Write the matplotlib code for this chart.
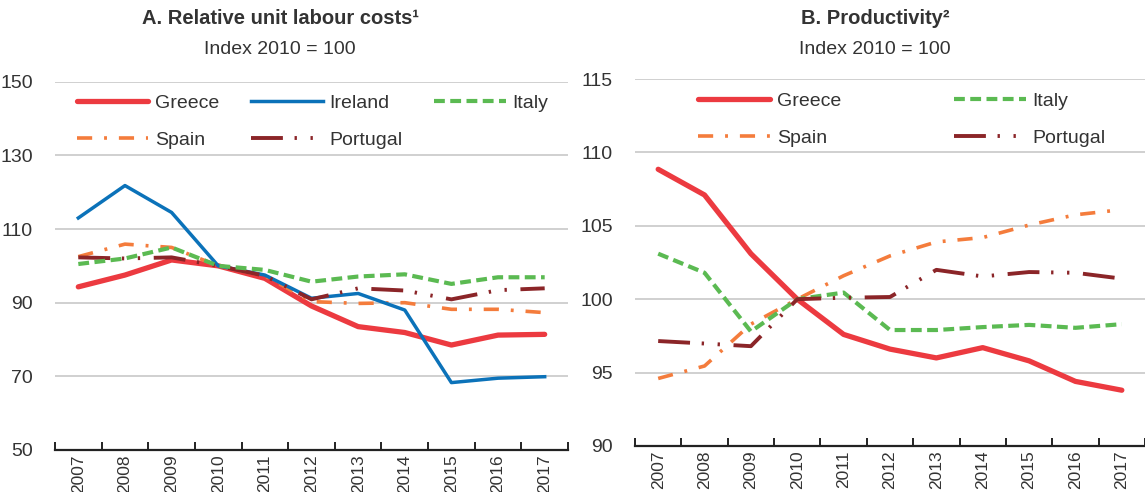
import matplotlib
matplotlib.use("Agg")
import matplotlib.pyplot as plt
from matplotlib import font_manager

years = ["2007", "2008", "2009", "2010", "2011", "2012", "2013", "2014", "2015", "2016", "2017"]

# Panel A: relative unit labour costs
ulc_greece = [94.3, 97.5, 101.6, 100.0, 96.6, 89.1, 83.5, 81.9, 78.5, 81.2, 81.4]
ulc_ireland = [113.0, 121.8, 114.5, 100.0, 97.5, 91.2, 92.5, 88.0, 68.3, 69.5, 69.9]
ulc_italy = [100.5, 102.0, 105.0, 100.0, 98.9, 95.7, 97.1, 97.7, 95.1, 96.9, 96.9]
ulc_spain = [102.5, 105.9, 105.0, 100.0, 97.3, 90.3, 89.8, 90.0, 88.2, 88.2, 87.3]
ulc_portugal = [102.3, 102.0, 102.3, 100.0, 97.3, 90.9, 93.9, 93.3, 90.9, 93.4, 93.9]

# Panel B: productivity
prod_greece = [108.85, 107.1, 103.1, 100.0, 97.6, 96.6, 96.0, 96.7, 95.8, 94.4, 93.8]
prod_italy = [103.1, 101.8, 97.8, 100.0, 100.45, 97.9, 97.9, 98.1, 98.25, 98.05, 98.3]
prod_spain = [94.6, 95.45, 98.3, 100.0, 101.6, 102.95, 103.9, 104.2, 105.05, 105.75, 106.1]
prod_portugal = [97.15, 96.98, 96.8, 100.0, 100.1, 100.15, 102.0, 101.55, 101.85, 101.8, 101.4]

names = set(f.name for f in font_manager.fontManager.ttflist)
fam = "Liberation Sans Narrow" if "Liberation Sans Narrow" in names else "Liberation Sans"
plt.rcParams["font.family"] = [fam, "DejaVu Sans"]

TXT = "#333333"
C_GR = "#EC3A40"
C_IE = "#0B72B9"
C_IT = "#5BBA52"
C_ES = "#F47C3C"
C_PT = "#8B2528"

styles = {
    "Greece": dict(color=C_GR, lw=3.8, ls="-", solid_capstyle="round"),
    "Ireland": dict(color=C_IE, lw=2.5, ls="-"),
    "Italy": dict(color=C_IT, lw=3.0, dashes=(2.6, 1.3)),
    "Spain": dict(color=C_ES, lw=2.6, dashes=(4.2, 3.3, 0.8, 3.3)),
    "Portugal": dict(color=C_PT, lw=2.8, dashes=(8.2, 3.0, 0.6, 3.5, 0.6, 3.5)),
}

fig = plt.figure(figsize=(11.45, 4.92), dpi=100)
axA = fig.add_axes([55 / 1145, 1 - 450 / 492, 513 / 1145, 368.3 / 492])
axB = fig.add_axes([635 / 1145, 1 - 446 / 492, 510 / 1145, 367 / 492])

x = list(range(len(years)))


def style_axis(ax, lo, hi, step):
    ax.set_xlim(-0.5, len(years) - 0.5)
    ax.set_ylim(lo, hi)
    ax.set_yticks(list(range(lo, hi + 1, step)))
    ax.grid(axis="y", color="#C8C8C8", lw=1.2)
    ax.set_axisbelow(True)
    for s in ["top", "right", "left"]:
        ax.spines[s].set_visible(False)
    ax.spines["bottom"].set_color("#222222")
    ax.spines["bottom"].set_linewidth(1.6)
    ax.set_xticks(x)
    ax.set_xticklabels(years, rotation=90, fontsize=12.5, color=TXT)
    ax.set_xticks([i - 0.5 for i in range(len(years) + 1)], minor=True)
    ax.tick_params(axis="x", which="major", length=0, pad=3)
    ax.tick_params(axis="x", which="minor", direction="in", length=6, width=1.4, color="#222222")
    ax.tick_params(axis="y", length=0, pad=16, labelsize=14, labelcolor=TXT)


leg_kw = dict(loc="upper left", frameon=False, fontsize=14, handlelength=3.7,
              labelspacing=1.0, handletextpad=0.35, borderpad=0.0, borderaxespad=0.0,
              labelcolor=TXT)

# Panel A
for name, data in [("Greece", ulc_greece), ("Spain", ulc_spain), ("Ireland", ulc_ireland),
                   ("Portugal", ulc_portugal), ("Italy", ulc_italy)]:
    axA.plot(x, data, label=name, **styles[name])
style_axis(axA, 50, 150, 20)
hA, lA = axA.get_legend_handles_labels()
axA.legend(hA, lA, ncol=3, bbox_to_anchor=(0.042, 0.965), columnspacing=1.6, **leg_kw)

# Panel B
for name, data in [("Greece", prod_greece), ("Spain", prod_spain), ("Italy", prod_italy),
                   ("Portugal", prod_portugal)]:
    axB.plot(x, data, label=name, **styles[name])
style_axis(axB, 90, 115, 5)
hB, lB = axB.get_legend_handles_labels()
axB.legend(hB, lB, ncol=2, bbox_to_anchor=(0.1235, 0.963), columnspacing=5.8, **leg_kw)

# Titles
fig.text(280 / 1145, 1 - 19 / 492, "A. Relative unit labour costs\u00b9", ha="center", va="center",
         fontsize=14.5, fontweight="bold", color=TXT)
fig.text(280 / 1145, 1 - 50 / 492, "Index 2010 = 100", ha="center", va="center",
         fontsize=14, color=TXT)
fig.text(875 / 1145, 1 - 19 / 492, "B. Productivity\u00b2", ha="center", va="center",
         fontsize=14.5, fontweight="bold", color=TXT)
fig.text(875 / 1145, 1 - 50 / 492, "Index 2010 = 100", ha="center", va="center",
         fontsize=14, color=TXT)

fig.savefig("out.png", dpi=100)
